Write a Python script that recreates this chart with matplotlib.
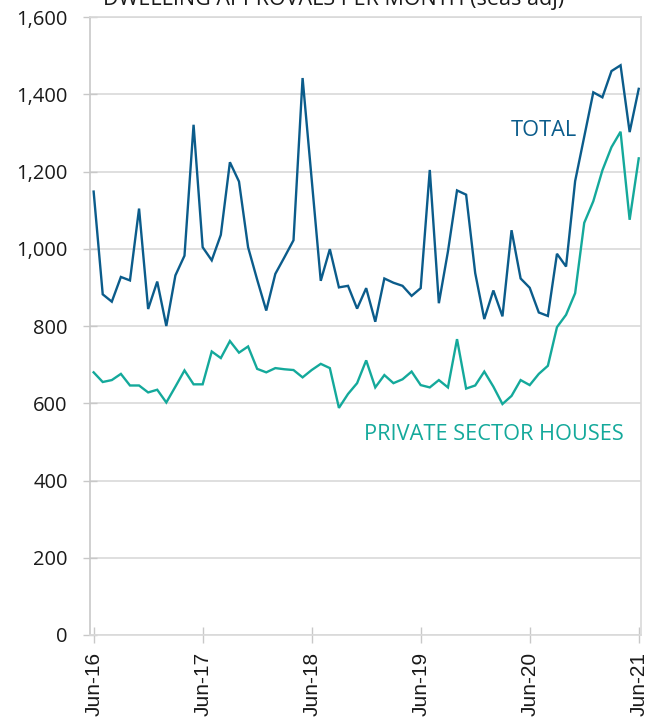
import matplotlib
matplotlib.use("Agg")
import matplotlib.pyplot as plt

months = list(range(61))  # Jun-16 .. Jun-21 monthly index
total = [1148, 882, 863, 927, 918, 1104, 844, 915, 800, 931,
         982, 1321, 1004, 970, 1036, 1224, 1174, 1004, 920, 840,
         935, 978, 1022, 1442, 1180, 917, 999, 900, 904, 845,
         898, 811, 923, 912, 904, 878, 898, 1204, 859, 993,
         1151, 1140, 937, 818, 892, 825, 1048, 923, 899, 835,
         826, 987, 954, 1175, 1290, 1405, 1392, 1460, 1475, 1302, 1414]
private_houses = [680, 655, 660, 676, 646, 646, 628, 635, 602, 643,
                  685, 649, 649, 734, 717, 761, 731, 747, 689, 680,
                  691, 688, 686, 667, 686, 702, 691, 588, 624, 652,
                  711, 641, 673, 652, 662, 682, 647, 641, 660, 641,
                  766, 638, 646, 682, 643, 598, 619, 660, 647, 676,
                  697, 797, 829, 885, 1067, 1123, 1203, 1263, 1303, 1075, 1234]
tick_pos = [0, 12, 24, 36, 48, 60]
tick_labels = ["Jun-16", "Jun-17", "Jun-18", "Jun-19", "Jun-20", "Jun-21"]
y_ticks = [0, 200, 400, 600, 800, 1000, 1200, 1400, 1600]

c_total = "#0b5c8b"
c_priv = "#14a99b"
grid_c = "#d9d9d9"

fig = plt.figure(figsize=(6.62, 7.18), dpi=100)
ax = fig.add_axes([90/662, 1-635/718, (641-90)/662, (635-17)/718])

ax.plot(months, total, color=c_total, lw=1.7, solid_joinstyle="miter")
ax.plot(months, private_houses, color=c_priv, lw=1.7, solid_joinstyle="miter")

ax.set_xlim(-0.4, 60.25)
ax.set_ylim(0, 1600)
ax.set_yticks(y_ticks)
ax.set_yticklabels([f"{v:,}" for v in y_ticks], fontfamily="Open Sans", fontsize=14.5, color="#1a1a1a")
ax.set_xticks(tick_pos)
ax.set_xticklabels(tick_labels, rotation=90, fontfamily="Liberation Sans", fontsize=15, color="#1a1a1a")

ax.grid(axis="y", color=grid_c, lw=1.2)
ax.set_axisbelow(True)
for s in ["top", "right", "bottom"]:
    ax.spines[s].set_color(grid_c)
    ax.spines[s].set_linewidth(1.2)
ax.spines["left"].set_color("#c8c8c8")
ax.spines["left"].set_linewidth(1.2)
ax.tick_params(axis="y", direction="inout", length=10, width=1, color="#c8c8c8", pad=11)
ax.tick_params(axis="x", direction="inout", length=12, width=1, color="#c8c8c8", pad=6)

ax.text(45.9, 1307, "TOTAL", color=c_total, fontfamily="Open Sans", fontsize=15.7,
        ha="left", va="center")
ax.text(29.8, 520, "PRIVATE SECTOR HOUSES", color=c_priv, fontfamily="Open Sans", fontsize=15.7,
        ha="left", va="center")

fig.text(334/662, 1-5/718, "DWELLING APPROVALS PER MONTH (seas adj)", ha="center", va="baseline",
         fontfamily="Open Sans", fontsize=15.5, color="#1a1a1a")

fig.savefig("out.png", dpi=100)
